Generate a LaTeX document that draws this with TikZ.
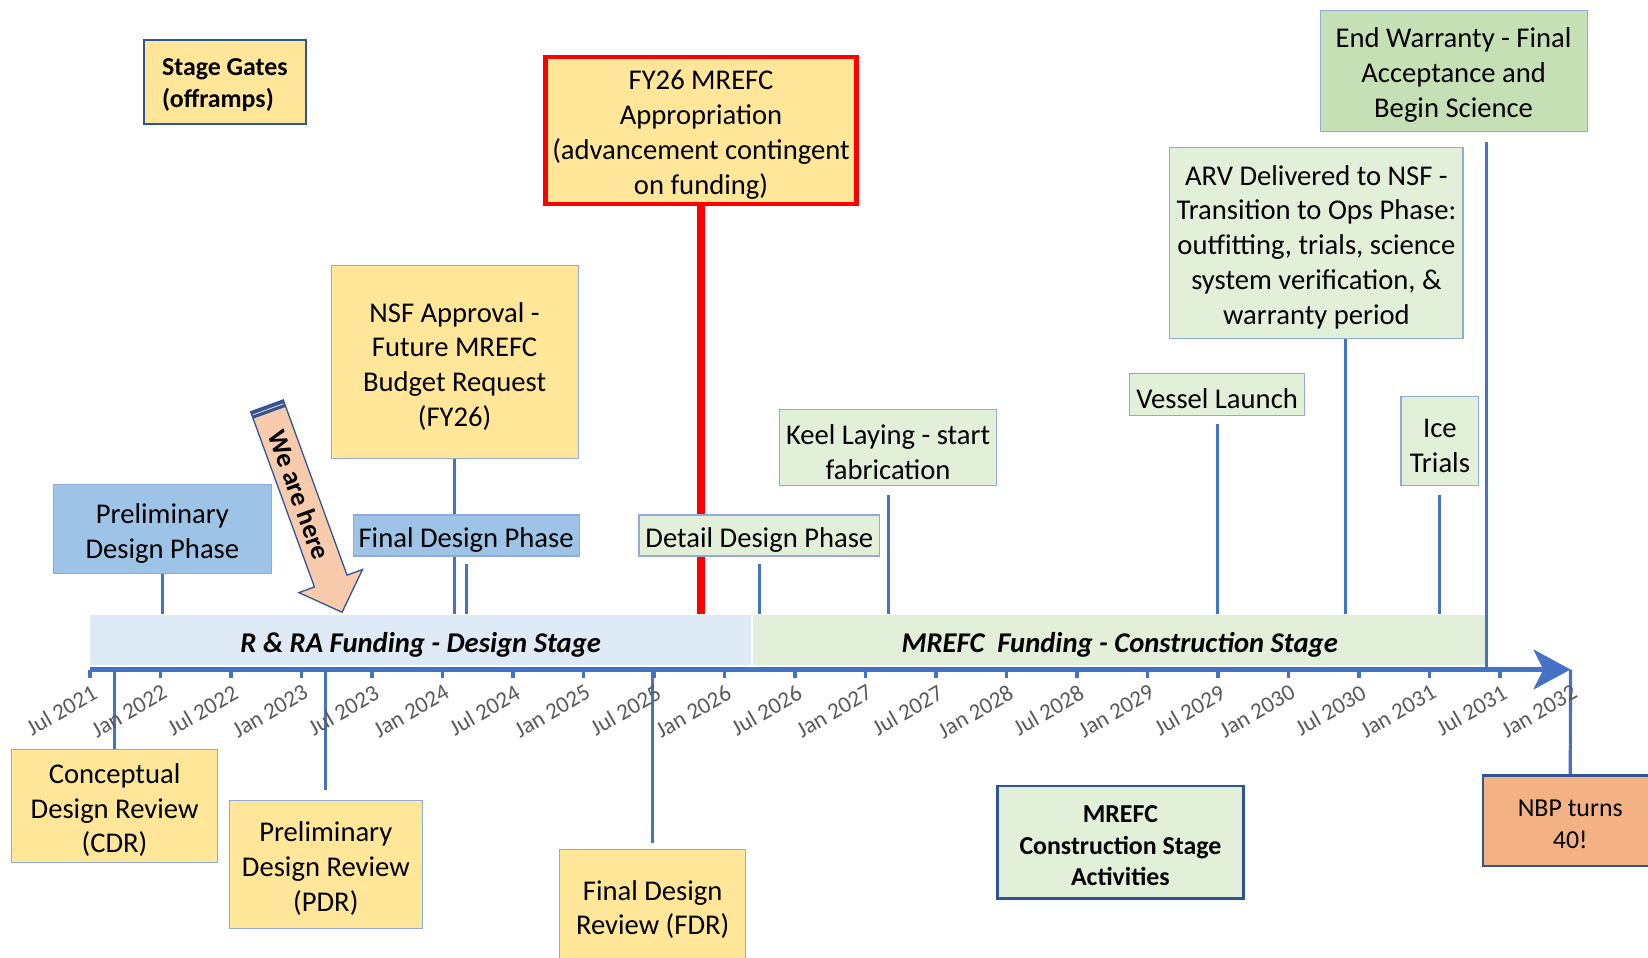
\documentclass[tikz,border=0pt]{standalone}
\usepackage{fontspec}
\setmainfont{Carlito}
\usepackage{tikz}
\usetikzlibrary{arrows.meta,calc,positioning}
\pgfdeclarelayer{background}
\pgfsetlayers{background,main}
\definecolor{gateyellow}{HTML}{FFE699}
\definecolor{phaseblue}{HTML}{9DC3E6}
\definecolor{buildgreen}{HTML}{E2F0D9}
\definecolor{sciencegreen}{HTML}{C5E0B4}
\definecolor{birthdayorange}{HTML}{F4B183}
\definecolor{bandblue}{HTML}{DEEBF7}
\definecolor{edgeblue}{HTML}{8FAADC}
\definecolor{navy}{HTML}{2F5597}
\definecolor{stemblue}{HTML}{4472C4}
\definecolor{peach}{HTML}{F8CBAD}
\definecolor{dategray}{HTML}{595959}
\newcommand{\boxfont}{\fontsize{15.5}{18.8}\selectfont}
\newcommand{\keyfont}{\fontsize{14}{17}\selectfont\bfseries}
\newcommand{\datefont}{\fontsize{12.5}{15}\selectfont}
\tikzset{
  boxsize/.style 2 args={minimum width=#1*0.02cm, minimum height=#2*0.02cm},
  nlines/.style={execute at begin node={\rule{0pt}{\dimexpr18.8pt*#1-3.5pt\relax}}},
  knlines/.style={execute at begin node={\rule{0pt}{\dimexpr17pt*#1-4.3pt\relax}}},
  event/.style={draw=edgeblue, line width=0.6pt, align=center, inner sep=0pt, font=\boxfont},
  keybox/.style={draw=navy, line width=1.4pt, align=center, inner sep=0pt, font=\keyfont},
  band/.style={inner sep=0pt, font=\boxfont\bfseries\itshape,
    execute at begin node={\rule{0pt}{16pt}}},
  stem/.style={stemblue, line width=1.7pt},
  datelbl/.style={anchor=north east, rotate=30, inner sep=1pt, text=dategray, font=\datefont},
}

\begin{document}
\begin{tikzpicture}[x=0.02cm, y=-0.02cm]
  \useasboundingbox (0,0) rectangle (1568,911);
  \clip (0,0) rectangle (1568,911);

  \begin{pgfonlayer}{background}
    \node[band, fill=bandblue, boxsize={628.5}{48}] (designband) at (400.3,609)
      {R \& RA Funding - Design Stage};
    \node[band, fill=buildgreen, boxsize={697.5}{48}] (buildband) at (1065.3,609)
      {MREFC\ \ Funding - Construction Stage};
  \end{pgfonlayer}

  % time axis
  \coordinate (tstart) at (85.6,637);
  \coordinate (tend) at (1494.3,637);
  \draw[stemblue, line width=3.2pt, -{Stealth[length=0.7cm,width=0.75cm,inset=0.18cm]}]
    (tstart) -- (tend);
  \foreach \i in {0,...,20}
    \draw[stemblue, line width=1.7pt] ({85.6+67.08*\i},637) -- ++(0,8);
  \foreach \lbl [count=\i from 0] in {Jul 2021,Jan 2022,Jul 2022,Jan 2023,Jul 2023,
      Jan 2024,Jul 2024,Jan 2025,Jul 2025,Jan 2026,Jul 2026,Jan 2027,Jul 2027,
      Jan 2028,Jul 2028,Jan 2029,Jul 2029,Jan 2030,Jul 2030,Jan 2031,Jul 2031,Jan 2032}
    \node[datelbl] (d\i) at ({87+67.08*\i},648) {\lbl};

  % above the axis
  \node[keybox, knlines=2, fill=gateyellow, boxsize={154}{80}, align=left] (gates) at (214,78)
    {Stage Gates\\(offramps)};
  \node[event, nlines=4, draw=red, line width=2.3pt, fill=gateyellow, boxsize={296}{140}] (fy26)
    at (667,124) {FY26 MREFC\\Appropriation\\(advancement contingent\\on funding)};
  \node[event, nlines=3, fill=sciencegreen, boxsize={254}{115}] (warranty) at (1383,67.5)
    {End Warranty - Final\\Acceptance and\\Begin Science};
  \node[event, nlines=5, fill=buildgreen, boxsize={279}{182}] (arv) at (1252.5,231)
    {ARV Delivered to NSF -\\Transition to Ops Phase:\\outfitting, trials, science\\system verification, \&\\warranty period};
  \node[event, nlines=4, fill=gateyellow, boxsize={235}{183}] (nsf) at (432.5,344.5)
    {NSF Approval -\\Future MREFC\\Budget Request\\(FY26)};
  \node[event, nlines=1, fill=buildgreen, boxsize={166}{40}] (launch) at (1158,375) {Vessel Launch};
  \node[event, nlines=2, fill=buildgreen, boxsize={74}{85}] (ice) at (1370,419.5) {Ice\\Trials};
  \node[event, nlines=2, fill=buildgreen, boxsize={206}{72}] (keel) at (845,426)
    {Keel Laying - start\\fabrication};
  \node[event, nlines=2, fill=phaseblue, boxsize={207}{85}] (prelim) at (154.5,503.5)
    {Preliminary\\Design Phase};
  \node[event, nlines=1, fill=phaseblue, boxsize={215}{39}] (finalphase) at (443.5,509.5)
    {Final Design Phase};
  \node[event, nlines=1, fill=buildgreen, boxsize={229}{39}] (detail) at (722.5,509.5)
    {Detail Design Phase};

  % below the axis
  \node[event, nlines=3, fill=gateyellow, boxsize={196}{108}] (cdr) at (109,767)
    {Conceptual\\Design Review\\(CDR)};
  \node[event, nlines=3, fill=gateyellow, boxsize={184}{121}] (pdr) at (310,822.5)
    {Preliminary\\Design Review\\(PDR)};
  \node[event, nlines=2, fill=gateyellow, boxsize={177}{107}] (fdr) at (621,861.5)
    {Final Design\\Review (FDR)};
  \node[keybox, knlines=3, fill=buildgreen, boxsize={234}{107}] (activities) at (1066,801.5)
    {MREFC\\Construction Stage\\Activities};
  \node[keybox, knlines=2, font=\fontsize{14}{17}\selectfont, fill=birthdayorange, boxsize={166}{86}] (nbp)
    at (1494,781) {NBP turns\\40!};

  % we are here
  \begin{scope}[shift={(254,386.15)}, rotate=-70]
    \draw[navy, fill=peach, line width=0.7pt] (0,-16.5) -- (177.4,-16.5) -- (177.4,-32.2)
      -- (209,0) -- (177.4,32.2) -- (177.4,16.5) -- (0,16.5) -- cycle;
    \fill[navy] (0,-16.5) rectangle (7,16.5);
    \draw[peach, line width=0.5pt] (3.5,-15.5) -- (3.5,15.5);
    \node[rotate=-70, inner sep=0pt, font=\fontsize{14.5}{17}\selectfont\bfseries] (here) at (90,0)
      {We are here};
  \end{scope}

  \coordinate (arvfoot) at ([xshift=0.55cm]arv.south);
  \coordinate (warrantyfoot) at ([xshift=0.62cm,yshift=-0.2cm]warranty.south);
  \begin{pgfonlayer}{background}
    \draw[stem] (prelim.south) -- (prelim.south |- designband.north);
    \draw[stem] (nsf.south) -- (nsf.south |- designband.north);
    \draw[stem] ([yshift=-0.14cm]finalphase.south) -- (finalphase.south |- designband.north);
    \draw[red, line width=4pt] (fy26.south) -- (fy26.south |- designband.north);
    \draw[stem] ([yshift=-0.14cm]detail.south) -- (detail.south |- buildband.north);
    \draw[stem] ([yshift=-0.16cm]keel.south) -- (keel.south |- buildband.north);
    \draw[stem] ([yshift=-0.16cm]launch.south) -- (launch.south |- buildband.north);
    \draw[stem] (arvfoot) -- (arvfoot |- buildband.north);
    \draw[stem] ([yshift=-0.16cm]ice.south) -- (ice.south |- buildband.north);
    \draw[stem] (warrantyfoot) -- (warrantyfoot |- tend);
    \draw[stem] (cdr.north |- tend) -- (cdr.north);
    \draw[stem] (pdr.north |- tend) -- ([yshift=0.2cm]pdr.north);
    \draw[stem] (fdr.north |- tend) -- ([yshift=0.1cm]fdr.north);
    \draw[stem] (tend) -- (nbp.north);
  \end{pgfonlayer}
\end{tikzpicture}
\end{document}
